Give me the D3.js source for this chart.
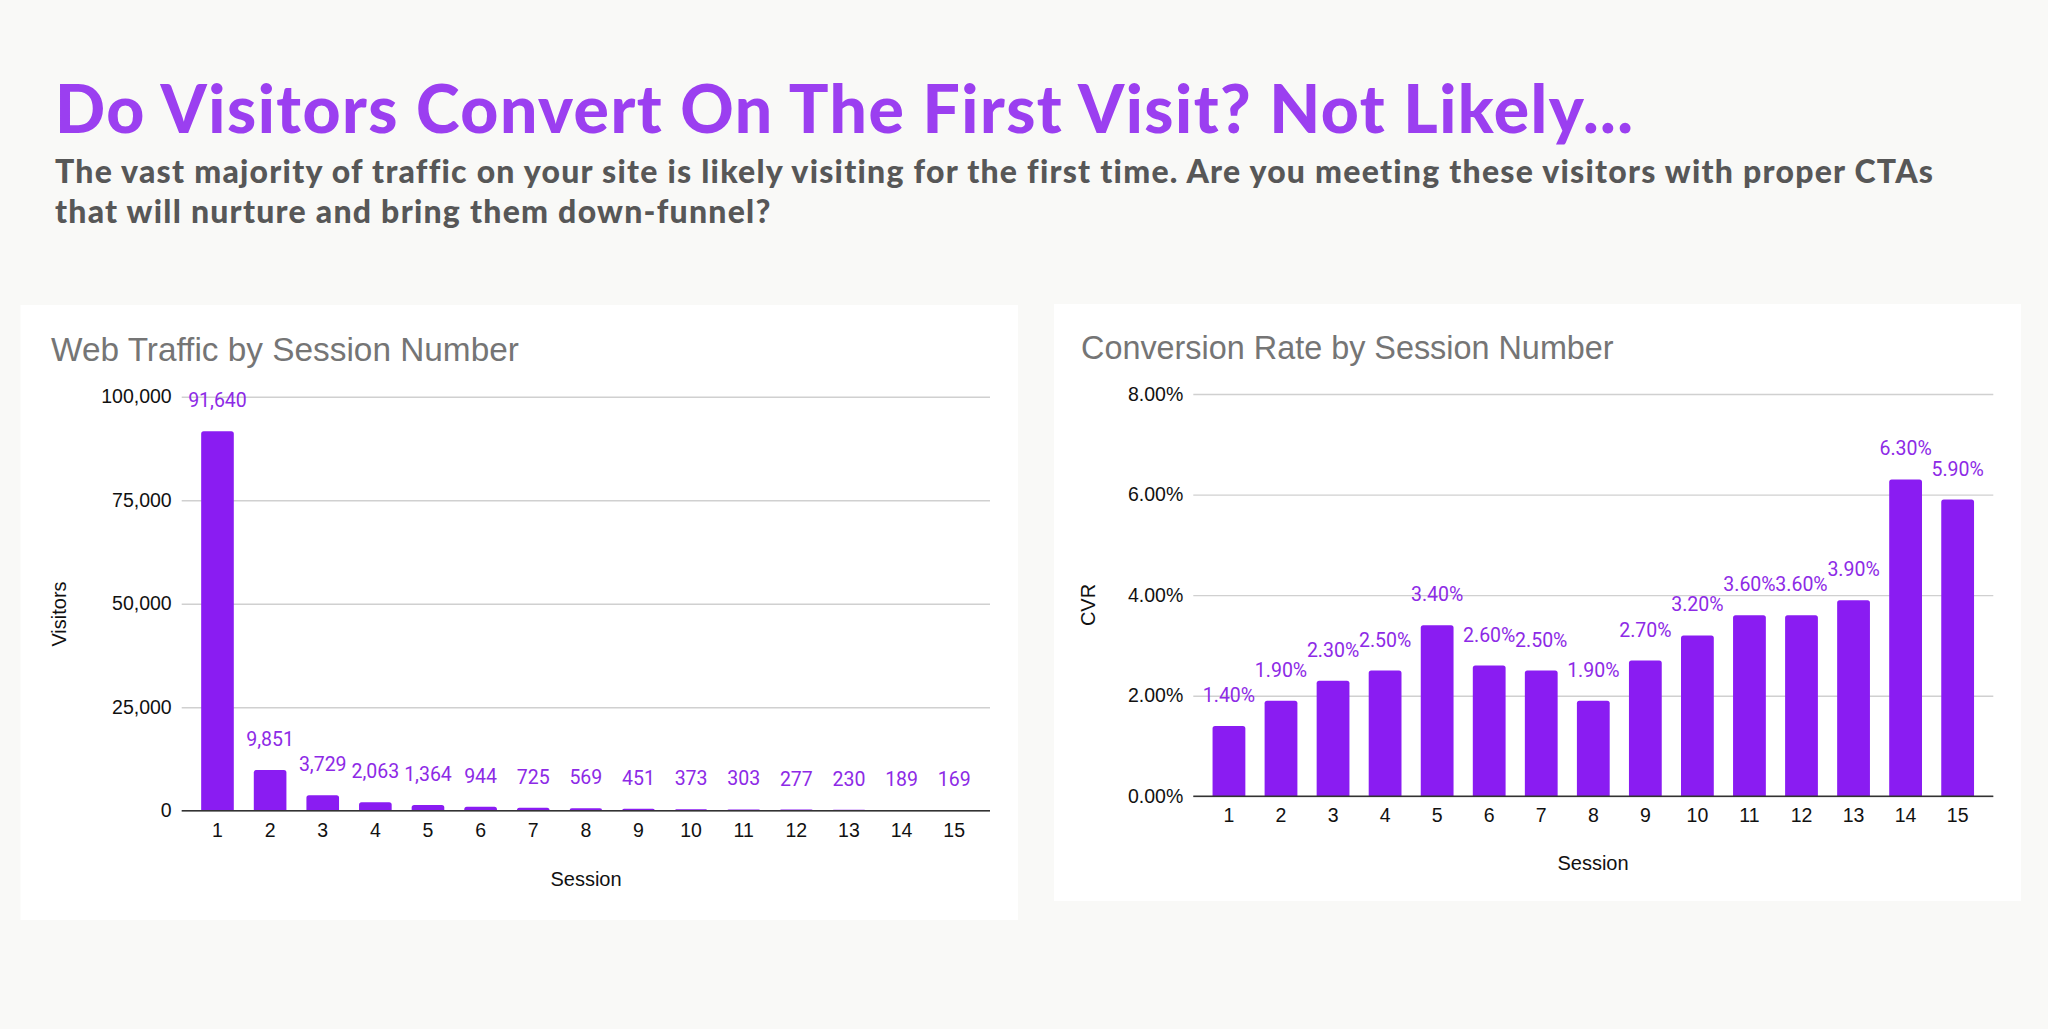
<!DOCTYPE html>
<html>
<head>
<meta charset="utf-8">
<script src="https://cdn.jsdelivr.net/npm/d3@7"></script>
<style>
  html, body { margin: 0; padding: 0; background: #f9f9f7; }
  svg { display: block; }
</style>
</head>
<body>
<svg id="chart" width="2048" height="1029"></svg>
<script>
// ---------------- DATA ----------------
const sessions = ["1","2","3","4","5","6","7","8","9","10","11","12","13","14","15"];
const visitors = [91640, 9851, 3729, 2063, 1364, 944, 725, 569, 451, 373, 303, 277, 230, 189, 169];
const cvr = [1.4, 1.9, 2.3, 2.5, 3.4, 2.6, 2.5, 1.9, 2.7, 3.2, 3.6, 3.6, 3.9, 6.3, 5.9]; // percent
const visitorTicks = [0, 25000, 50000, 75000, 100000];
const cvrTicks = [0, 2, 4, 6, 8];
const mainTitle = "Do Visitors Convert On The First Visit? Not Likely...";
const subtitleLines = [
  "The vast majority of traffic on your site is likely visiting for the first time. Are you meeting these visitors with proper CTAs",
  "that will nurture and bring them down-funnel?"
];
const leftTitle = "Web Traffic by Session Number";
const rightTitle = "Conversion Rate by Session Number";

// ---------------- STYLE ----------------
const BAR = "#8a1cf2";
const LABEL = "#8d2ae6";
const TITLE_PURPLE = "#9b3ff0";
const SUB_GRAY = "#575757";
const GRID = "#d0d0d0";
const AXIS = "#333333";
const CHART_TITLE = "#757575";
const AXIS_FONT = "'Liberation Sans', Arial, sans-serif";
const LABEL_FONT = "Roboto, 'Liberation Sans', sans-serif";

const svg = d3.select("#chart");

function fitSpacing(sel, target) {
  const node = sel.node();
  const w = node.getComputedTextLength();
  const n = sel.text().length;
  const ls = (target - w) / Math.max(1, n - 1);
  sel.attr("letter-spacing", ls);
  return ls;
}
function fitSize(sel, target, base) {
  const w = sel.node().getComputedTextLength();
  sel.attr("font-size", base * target / w);
}

// ---------------- HEADER ----------------
const t = svg.append("text")
  .attr("x", 55).attr("y", 133)
  .attr("font-family", "Lato, 'Open Sans', sans-serif")
  .attr("font-weight", 900)
  .attr("font-size", 66)
  .attr("fill", TITLE_PURPLE)
  .text(mainTitle);
fitSpacing(t, 1578);

const s1 = svg.append("text")
  .attr("x", 55).attr("y", 183)
  .attr("font-family", "Lato, 'Open Sans', sans-serif")
  .attr("font-weight", 900)
  .attr("font-size", 32)
  .attr("fill", SUB_GRAY)
  .text(subtitleLines[0]);
const ls = fitSpacing(s1, 1878);
svg.append("text")
  .attr("x", 55).attr("y", 223)
  .attr("font-family", "Lato, 'Open Sans', sans-serif")
  .attr("font-weight", 900)
  .attr("font-size", 32)
  .attr("fill", SUB_GRAY)
  .attr("letter-spacing", ls)
  .text(subtitleLines[1]);

// ---------------- PANELS ----------------
function topRoundedBar(x, y, w, h, r) {
  r = Math.min(r, h, w / 2);
  if (h <= 0) return "";
  return `M${x},${y + h} L${x},${y + r} Q${x},${y} ${x + r},${y} L${x + w - r},${y} Q${x + w},${y} ${x + w},${y + r} L${x + w},${y + h} Z`;
}

function drawChart(cfg) {
  const g = svg.append("g");
  g.append("rect")
    .attr("x", cfg.panel[0]).attr("y", cfg.panel[1])
    .attr("width", cfg.panel[2]).attr("height", cfg.panel[3])
    .attr("fill", "#ffffff");

  const title = g.append("text")
    .attr("x", cfg.titleX).attr("y", cfg.titleY)
    .attr("font-family", AXIS_FONT)
    .attr("font-size", 33)
    .attr("fill", CHART_TITLE)
    .text(cfg.title);
  fitSize(title, cfg.titleW, 33);

  const x = d3.scaleBand().domain(sessions)
    .range([cfg.x0, cfg.x1]).paddingInner(cfg.pi).paddingOuter(0.37);
  const y = d3.scaleLinear().domain(cfg.domain).range([cfg.yBottom, cfg.yTop]);

  // gridlines + y tick labels
  const yAxis = g.append("g")
    .attr("transform", `translate(${cfg.x0},0)`)
    .call(d3.axisLeft(y).tickValues(cfg.ticks).tickFormat(cfg.tickFormat)
      .tickSizeInner(-(cfg.x1 - cfg.x0)).tickSizeOuter(0).tickPadding(10));
  yAxis.select(".domain").remove();
  yAxis.selectAll(".tick line").attr("stroke", GRID).attr("stroke-width", 1.4);
  yAxis.selectAll(".tick text")
    .attr("font-family", AXIS_FONT).attr("font-size", 19.5).attr("fill", "#111");

  // bars
  g.append("g").selectAll("path")
    .data(cfg.values)
    .join("path")
    .attr("d", (d, i) => topRoundedBar(x(sessions[i]), y(d), x.bandwidth(), y(0) - y(d), 2.5))
    .attr("fill", BAR);

  // baseline axis
  const xAxis = g.append("g")
    .attr("transform", `translate(0,${cfg.yBottom})`)
    .call(d3.axisBottom(x).tickSize(0).tickPadding(12));
  xAxis.select(".domain").attr("stroke", AXIS).attr("stroke-width", 1.6)
    .attr("d", `M${cfg.x0},0H${cfg.x1}`);
  xAxis.selectAll(".tick text")
    .attr("font-family", AXIS_FONT).attr("font-size", 19.5).attr("fill", "#111");

  // data labels
  g.append("g").selectAll("text")
    .data(cfg.values)
    .join("text")
    .attr("x", (d, i) => x(sessions[i]) + x.bandwidth() / 2)
    .attr("y", d => y(d) - 24)
    .attr("text-anchor", "middle")
    .attr("font-family", LABEL_FONT)
    .attr("font-size", 19.5)
    .attr("fill", LABEL)
    .text(cfg.labelFormat);

  // axis titles
  g.append("text")
    .attr("transform", `translate(${cfg.yTitleX},${cfg.yTitleY}) rotate(-90)`)
    .attr("text-anchor", "middle")
    .attr("dy", "0.35em")
    .attr("font-family", AXIS_FONT).attr("font-size", 20).attr("fill", "#111")
    .text(cfg.yTitle);
  g.append("text")
    .attr("x", cfg.xTitleX).attr("y", cfg.xTitleY)
    .attr("text-anchor", "middle")
    .attr("font-family", AXIS_FONT).attr("font-size", 20).attr("fill", "#111")
    .text("Session");
}

drawChart({
  panel: [20.5, 305, 997.5, 615],
  title: leftTitle, titleX: 51, titleY: 361, titleW: 468,
  x0: 181.7, x1: 990, pi: 0.38,
  yBottom: 810.7, yTop: 396.7, domain: [0, 100000],
  ticks: visitorTicks, tickFormat: d3.format(","),
  values: visitors, labelFormat: d3.format(","),
  yTitle: "Visitors", yTitleX: 59, yTitleY: 614,
  xTitleX: 586, xTitleY: 886
});

drawChart({
  panel: [1054, 304, 967, 597],
  title: rightTitle, titleX: 1081, titleY: 359, titleW: 533,
  x0: 1193.3, x1: 1993.3, pi: 0.37,
  yBottom: 796.3, yTop: 394, domain: [0, 8],
  ticks: cvrTicks, tickFormat: d => d.toFixed(2) + "%",
  values: cvr, labelFormat: d => d.toFixed(2) + "%",
  yTitle: "CVR", yTitleX: 1088, yTitleY: 605,
  xTitleX: 1593, xTitleY: 870
});
</script>
</body>
</html>
